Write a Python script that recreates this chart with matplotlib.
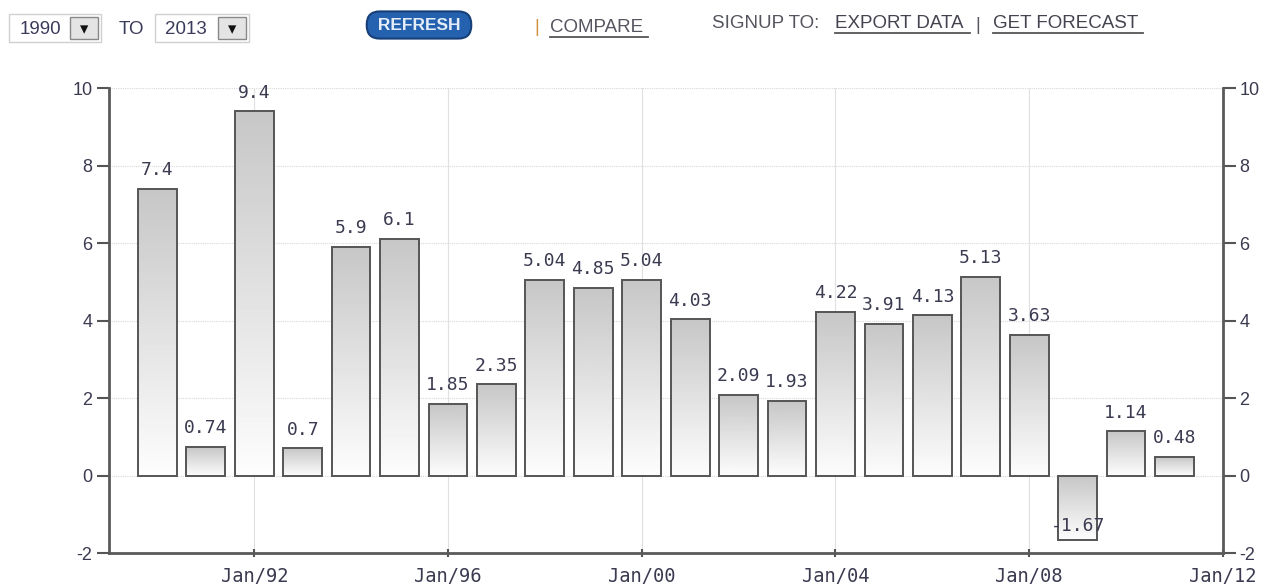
import numpy as np
import matplotlib.pyplot as plt
from matplotlib.patches import Rectangle
from matplotlib.lines import Line2D

years = list(range(1990, 2012))
values = [7.4, 0.74, 9.4, 0.7, 5.9, 6.1, 1.85, 2.35, 5.04, 4.85, 5.04,
          4.03, 2.09, 1.93, 4.22, 3.91, 4.13, 5.13, 3.63, -1.67, 1.14, 0.48]
labels = ['7.4', '0.74', '9.4', '0.7', '5.9', '6.1', '1.85', '2.35', '5.04',
          '4.85', '5.04', '4.03', '2.09', '1.93', '4.22', '3.91', '4.13',
          '5.13', '3.63', '-1.67', '1.14', '0.48']
xtick_years = [1992, 1996, 2000, 2004, 2008, 2012]
xtick_labels = ['Jan/92', 'Jan/96', 'Jan/00', 'Jan/04', 'Jan/08', 'Jan/12']
yticks = [-2, 0, 2, 4, 6, 8, 10]

txt = '#3a3a50'
edge = '#555555'
mono = 'DejaVu Sans Mono'
sans = 'Liberation Sans'

fig = plt.figure(figsize=(12.64, 5.88), dpi=100)
ax = fig.add_axes([0.0862, 0.0595, 0.8813, 0.7908])

# grid
for y in yticks[1:]:
    ax.axhline(y, color='#d8d8d8', lw=0.8, ls=(0, (1, 1)), zorder=0)
for x in xtick_years[:-1]:
    ax.axvline(x, color='#e0e0e0', lw=0.8, zorder=0)

# gradient: grey at the top of each bar, almost white at the bottom
grad = np.linspace(0.99, 0.78, 64).reshape(-1, 1)
w = 0.8
for x, v, lab in zip(years, values, labels):
    x0 = x - w / 2
    top, bot = max(v, 0), min(v, 0)
    ax.imshow(grad, cmap='gray', vmin=0, vmax=1, aspect='auto',
              extent=[x0, x0 + w, bot, top], origin='lower', zorder=2,
              interpolation='bilinear')
    ax.add_patch(Rectangle((x0, bot), w, top - bot, fill=False,
                           ec=edge, lw=1.4, zorder=3))
    off = 7 if v >= 0 else 4
    ax.annotate(lab, (x, v), xytext=(0, off), textcoords='offset points',
                ha='center', va='bottom', fontsize=13, color=txt,
                family=mono, zorder=4)

ax.set_xlim(1989, 2012)
ax.set_ylim(-2, 10)
ax.set_xticks(xtick_years)
ax.set_xticklabels(xtick_labels, fontsize=13.5, color=txt, family=mono)
ax.set_yticks(yticks)
ax.set_yticklabels([str(t) for t in yticks], fontsize=13, color=txt, family=sans)
ax.tick_params(axis='y', which='both', length=9, width=1.5, color='#555555',
               left=True, right=True, labelleft=True, labelright=True, pad=3)
ax.tick_params(axis='x', length=6, width=1.5, color='#555555', direction='inout',
               pad=7)
for s in ['left', 'right', 'bottom']:
    ax.spines[s].set_color('#5a5a5a')
    ax.spines[s].set_linewidth(2)
ax.spines['top'].set_visible(False)

# toolbar across the top
W, H = 1264, 588


def fx(px):
    return px / W


def fy(py):
    return 1 - py / H


def box(x0, y0, x1, y1, ec='#d0d0d0', fc='white'):
    fig.add_artist(Rectangle((fx(x0), fy(y1)), fx(x1) - fx(x0), fy(y0) - fy(y1),
                             transform=fig.transFigure, fc=fc, ec=ec, lw=1))


def underline(x0, x1, py, color='#555555'):
    fig.add_artist(Line2D([fx(x0), fx(x1)], [fy(py), fy(py)],
                          transform=fig.transFigure, color=color, lw=1.3))


tb = dict(fontsize=13.5, family=sans, va='center')
box(9, 14, 101, 42)
box(70, 17, 98, 39, ec='#888888', fc='#e4e4e4')
fig.text(fx(40), fy(29), '1990', color='#3a3a5a', ha='center', **tb)
fig.text(fx(84), fy(29), '\u25be', fontsize=12, color='#111111', ha='center',
         va='center')
fig.text(fx(131), fy(29), 'TO', color='#3a3a5a', ha='center', **tb)
box(155, 14, 249, 42)
box(218, 17, 246, 39, ec='#888888', fc='#e4e4e4')
fig.text(fx(186), fy(29), '2013', color='#3a3a5a', ha='center', **tb)
fig.text(fx(232), fy(29), '\u25be', fontsize=12, color='#111111', ha='center',
         va='center')

fig.text(fx(419), fy(25), ' REFRESH ', fontsize=12.5, family=sans, color='#e4ecf8',
         ha='center', va='center', fontweight='bold',
         bbox=dict(boxstyle='round,pad=0.35,rounding_size=0.75', fc='#2462b0',
                   ec='#173f78', lw=1.5))

fig.text(fx(537), fy(28), '|', color='#d09040', ha='center', **tb)
fig.text(fx(550), fy(28), 'COMPARE', color='#555560', ha='left', **tb)
underline(550, 648, 37)
fig.text(fx(712), fy(24), 'SIGNUP TO:', color='#555560', ha='left', **tb)
fig.text(fx(835), fy(24), 'EXPORT DATA', color='#444450', ha='left', **tb)
underline(835, 970, 33)
fig.text(fx(978), fy(25), '|', color='#555560', ha='center', **tb)
fig.text(fx(993), fy(24), 'GET FORECAST', color='#444450', ha='left', **tb)
underline(993, 1143, 33)

fig.savefig('out.png', dpi=100)
